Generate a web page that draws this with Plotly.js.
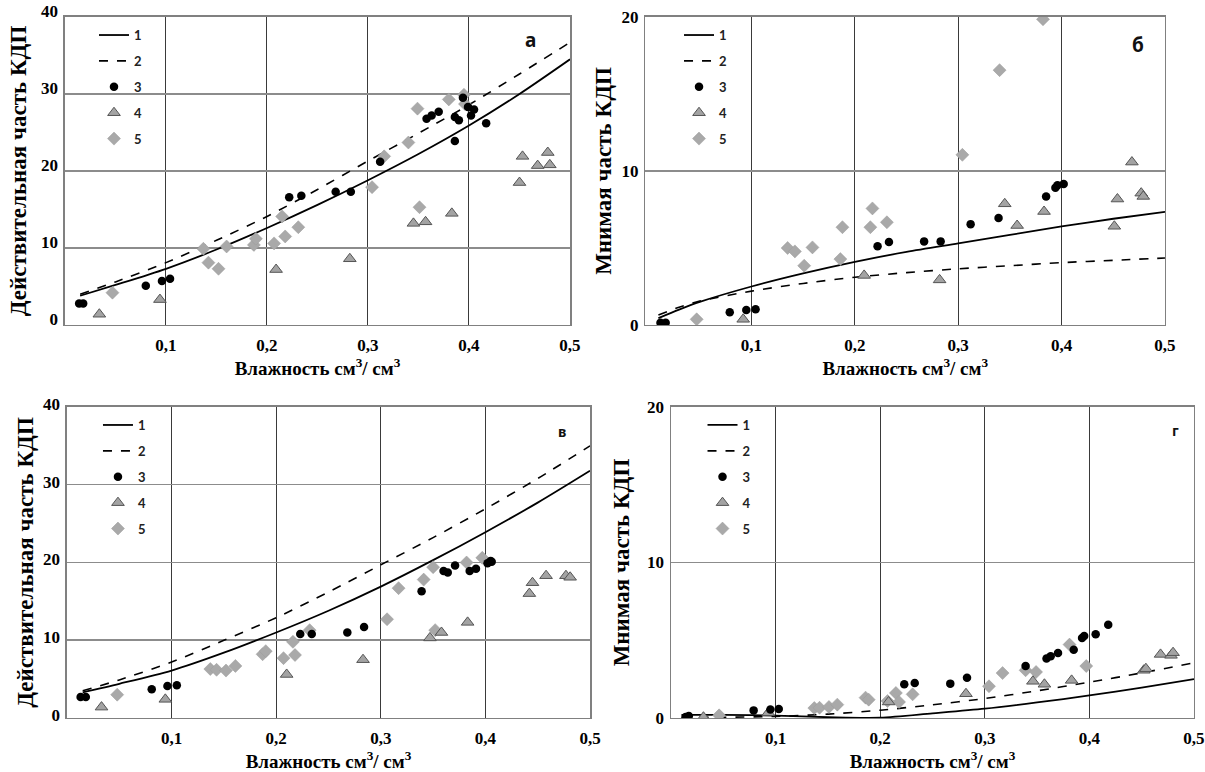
<!DOCTYPE html>
<html>
<head>
<meta charset="utf-8">
<script src="https://cdn.plot.ly/plotly-3.0.1.min.js"></script>
<style>html,body{margin:0;padding:0;background:#fff;}#chart{width:1205px;height:772px;}</style>
</head>
<body>
<div id="chart"></div>
<script>
// ---------- DATA ----------
var legendNames = ['1', '2', '3', '4', '5'];
var xTickVals = [0.1, 0.2, 0.3, 0.4, 0.5];
var xTickText = ['0,1', '0,2', '0,3', '0,4', '0,5'];
var yTicksReal = [0, 10, 20, 30, 40];
var yTicksImag = [0, 10, 20];
var xTitle = 'Влажность см<sup>3</sup>/ см<sup>3</sup>';
var yTitleReal = 'Действительная часть КДП';
var yTitleImag = 'Мнимая часть КДП';
var panelLabels = ['а', 'б', 'в', 'г'];

// model curves (x grid shared by curves of a panel)
var a_cx = [0.015, 0.05, 0.1, 0.15, 0.2, 0.25, 0.3, 0.35, 0.4, 0.45, 0.5];
var a_c1 = [3.8, 5.2, 7.3, 9.8, 12.6, 15.6, 18.8, 22.2, 25.9, 30.0, 34.5];
var a_c2 = [4.0, 5.6, 8.1, 11.0, 14.1, 17.6, 21.3, 24.9, 28.6, 32.6, 36.7];

var b_cx = [0.01, 0.03, 0.05, 0.1, 0.15, 0.2, 0.25, 0.3, 0.35, 0.4, 0.45, 0.5];
var b_c1 = [0.45, 1.0, 1.5, 2.5, 3.35, 4.1, 4.75, 5.3, 5.85, 6.4, 6.9, 7.35];
var b_c2 = [0.65, 1.15, 1.55, 2.2, 2.7, 3.1, 3.4, 3.65, 3.85, 4.05, 4.2, 4.35];

var v_cx = [0.015, 0.05, 0.1, 0.15, 0.2, 0.25, 0.3, 0.35, 0.4, 0.45, 0.5];
var v_c1 = [3.3, 4.4, 6.1, 8.4, 11.0, 13.8, 16.9, 20.3, 23.9, 27.7, 31.8];
var v_c2 = [3.5, 4.9, 7.2, 10.0, 12.9, 16.2, 19.7, 23.2, 26.9, 30.8, 35.0];

var g_cx = [0.01, 0.05, 0.1, 0.15, 0.2, 0.25, 0.3, 0.35, 0.4, 0.45, 0.5];
var g_c1 = [0.2, 0.2, 0.15, 0.05, 0.02, 0.3, 0.6, 1.0, 1.45, 1.95, 2.5];
var g_c2 = [0.05, 0.05, 0.1, 0.25, 0.5, 0.85, 1.25, 1.75, 2.3, 2.9, 3.55];

// measured points: series 3 (circles)
var a_x3 = [0.014, 0.018, 0.080, 0.096, 0.104, 0.222, 0.234, 0.268, 0.283, 0.312, 0.358, 0.363, 0.370, 0.386, 0.386, 0.390, 0.394, 0.399, 0.402, 0.405, 0.417];
var a_y3 = [2.8, 2.8, 5.1, 5.7, 6.0, 16.6, 16.8, 17.3, 17.3, 21.2, 26.8, 27.2, 27.7, 27.0, 23.9, 26.6, 29.5, 28.3, 27.2, 28.0, 26.2];
var b_x3 = [0.012, 0.017, 0.079, 0.095, 0.104, 0.222, 0.233, 0.267, 0.283, 0.312, 0.339, 0.385, 0.394, 0.396, 0.402];
var b_y3 = [0.15, 0.15, 0.83, 0.98, 1.02, 5.11, 5.39, 5.43, 5.43, 6.55, 6.94, 8.35, 8.91, 9.07, 9.16];
var v_x3 = [0.013, 0.018, 0.081, 0.096, 0.105, 0.223, 0.234, 0.268, 0.284, 0.339, 0.360, 0.364, 0.371, 0.385, 0.391, 0.402, 0.405, 0.406];
var v_y3 = [2.7, 2.7, 3.7, 4.1, 4.2, 10.8, 10.8, 11.0, 11.7, 16.3, 18.9, 18.7, 19.6, 18.9, 19.2, 19.9, 20.2, 20.1];
var g_x3 = [0.014, 0.017, 0.079, 0.095, 0.103, 0.223, 0.233, 0.267, 0.283, 0.339, 0.359, 0.363, 0.370, 0.385, 0.393, 0.395, 0.406, 0.418];
var g_y3 = [0.06, 0.13, 0.49, 0.54, 0.58, 2.17, 2.25, 2.21, 2.59, 3.34, 3.82, 3.97, 4.18, 4.39, 5.14, 5.27, 5.38, 6.0];

// series 4 (triangles)
var a_x4 = [0.034, 0.094, 0.209, 0.282, 0.345, 0.357, 0.383, 0.450, 0.453, 0.468, 0.478, 0.480];
var a_y4 = [1.4, 3.3, 7.2, 8.6, 13.2, 13.4, 14.5, 18.5, 21.9, 20.7, 22.4, 20.8];
var b_x4 = [0.092, 0.209, 0.282, 0.345, 0.357, 0.383, 0.451, 0.454, 0.468, 0.477, 0.479];
var b_y4 = [0.37, 3.22, 2.93, 7.87, 6.46, 7.37, 6.41, 8.18, 10.58, 8.56, 8.35];
var v_x4 = [0.033, 0.094, 0.210, 0.283, 0.347, 0.358, 0.383, 0.442, 0.445, 0.458, 0.477, 0.481];
var v_y4 = [1.4, 2.4, 5.6, 7.5, 10.3, 11.0, 12.3, 16.0, 17.4, 18.3, 18.3, 18.1];
var g_x4 = [0.031, 0.093, 0.208, 0.282, 0.346, 0.357, 0.383, 0.452, 0.454, 0.468, 0.478, 0.480];
var g_y4 = [0.05, 0.34, 1.03, 1.56, 2.36, 2.17, 2.42, 3.07, 3.17, 4.09, 4.03, 4.2];

// series 5 (diamonds)
var a_x5 = [0.047, 0.137, 0.142, 0.152, 0.160, 0.187, 0.189, 0.207, 0.215, 0.218, 0.231, 0.304, 0.316, 0.340, 0.349, 0.351, 0.380, 0.395, 0.396];
var a_y5 = [4.2, 9.9, 8.1, 7.3, 10.2, 10.4, 11.2, 10.6, 14.1, 11.5, 12.7, 17.9, 21.9, 23.7, 28.1, 15.3, 29.3, 29.9, 28.7];
var b_x5 = [0.047, 0.135, 0.142, 0.151, 0.159, 0.186, 0.188, 0.215, 0.217, 0.231, 0.304, 0.340, 0.382];
var b_y5 = [0.37, 5.0, 4.78, 3.85, 5.04, 4.28, 6.35, 6.35, 7.57, 6.67, 11.05, 16.55, 19.85];
var v_x5 = [0.048, 0.137, 0.143, 0.152, 0.161, 0.187, 0.190, 0.207, 0.216, 0.218, 0.232, 0.306, 0.317, 0.341, 0.350, 0.352, 0.382, 0.397];
var v_y5 = [3.0, 6.3, 6.2, 6.1, 6.7, 8.2, 8.6, 7.7, 9.8, 8.1, 11.3, 12.7, 16.7, 17.8, 19.4, 11.3, 20.0, 20.6];
var g_x5 = [0.046, 0.137, 0.142, 0.151, 0.159, 0.186, 0.189, 0.207, 0.215, 0.218, 0.231, 0.304, 0.317, 0.339, 0.349, 0.381, 0.397];
var g_y5 = [0.17, 0.64, 0.66, 0.71, 0.86, 1.31, 1.18, 1.09, 1.61, 1.03, 1.52, 2.04, 2.89, 3.07, 2.96, 4.72, 3.34];

// ---------- FIGURE ----------
var SERIF = 'Liberation Serif, Times New Roman, serif';
var SANS = 'Lato, Open Sans, sans-serif';

var panels = [
  {ax: '', leg: 'legend', cx: a_cx, c1: a_c1, c2: a_c2, x3: a_x3, y3: a_y3, x4: a_x4, y4: a_y4, x5: a_x5, y5: a_y5},
  {ax: '2', leg: 'legend2', cx: b_cx, c1: b_c1, c2: b_c2, x3: b_x3, y3: b_y3, x4: b_x4, y4: b_y4, x5: b_x5, y5: b_y5},
  {ax: '3', leg: 'legend3', cx: v_cx, c1: v_c1, c2: v_c2, x3: v_x3, y3: v_y3, x4: v_x4, y4: v_y4, x5: v_x5, y5: v_y5},
  {ax: '4', leg: 'legend4', cx: g_cx, c1: g_c1, c2: g_c2, x3: g_x3, y3: g_y3, x4: g_x4, y4: g_y4, x5: g_x5, y5: g_y5}
];

var traces = [];
panels.forEach(function (p, i) {
  var common = {xaxis: 'x' + p.ax, yaxis: 'y' + p.ax, legend: p.leg, hoverinfo: 'skip'};
  traces.push(Object.assign({x: p.cx, y: p.c1, mode: 'lines', name: legendNames[0], legendgroup: 'p' + i + 'a', legendrank: 1,
    line: {color: '#000', width: 1.8, shape: 'spline', smoothing: 0.8}}, common));
  traces.push(Object.assign({x: p.cx, y: p.c2, mode: 'lines', name: legendNames[1], legendgroup: 'p' + i + 'b', legendrank: 2,
    line: {color: '#000', width: 1.6, dash: 'dash', shape: 'spline', smoothing: 0.8}}, common));
  traces.push(Object.assign({x: p.x5, y: p.y5, mode: 'markers', name: legendNames[4], legendgroup: 'p' + i + 'e', legendrank: 5,
    marker: {symbol: 'diamond', size: 10, color: '#a9a9a9', line: {color: '#9a9a9a', width: 0.5}}}, common));
  traces.push(Object.assign({x: p.x4, y: p.y4, mode: 'markers', name: legendNames[3], legendgroup: 'p' + i + 'd', legendrank: 4,
    marker: {symbol: 'triangle-up', size: 11, color: '#a3a3a3', line: {color: '#555', width: 1}}}, common));
  traces.push(Object.assign({x: p.x3, y: p.y3, mode: 'markers', name: legendNames[2], legendgroup: 'p' + i + 'c', legendrank: 3,
    marker: {symbol: 'circle', size: 8.5, color: '#000'}}, common));
});

function xAxis(domain, range, anchor, standoff) {
  return {
    domain: domain, range: range, anchor: anchor,
    tickmode: 'array', tickvals: xTickVals, ticktext: xTickText,
    ticks: '', ticklabelstandoff: 4,
    tickfont: {family: SERIF, size: 17, weight: 'bold', color: '#000'},
    showgrid: true, gridcolor: '#3a3a3a', gridwidth: 1,
    zeroline: false, showline: true, mirror: true, linecolor: '#808080', linewidth: 1.5,
    fixedrange: true, automargin: false,
    title: {text: xTitle, standoff: standoff, font: {family: SERIF, size: 19, weight: 'bold', color: '#000'}}
  };
}
function yAxis(domain, range, anchor, ticks, title, shift, standoff) {
  return {
    domain: domain, range: range, anchor: anchor,
    tickmode: 'array', tickvals: ticks, ticktext: ticks.map(String),
    ticks: '', ticklabelstandoff: 2, ticklabelshift: shift,
    tickfont: {family: SERIF, size: 17, weight: 'bold', color: '#000'},
    showgrid: true, gridcolor: '#8c8c8c', gridwidth: 1.5,
    zeroline: false, showline: true, mirror: true, linecolor: '#808080', linewidth: 1.5,
    fixedrange: true, automargin: false,
    title: {text: title, standoff: standoff, font: {family: SERIF, size: 23, weight: 'bold', color: '#000'}}
  };
}
function legendBox(x, y) {
  return {x: x, y: y, xanchor: 'left', yanchor: 'top', bgcolor: 'rgba(0,0,0,0)', borderwidth: 0,
    tracegroupgap: 6, itemclick: false, itemdoubleclick: false,
    font: {family: SANS, size: 13, weight: 'bold', color: '#222'}};
}
function panelLabel(text, ax, x, y, size) {
  return {text: text, xref: 'x' + ax + ' domain', yref: 'y' + ax + ' domain', x: x, y: y,
    showarrow: false, xanchor: 'center', yanchor: 'middle',
    font: {family: 'Noto Sans, sans-serif', size: size, weight: 'bold', color: '#111'}};
}

var layout = {
  width: 1205, height: 772,
  margin: {l: 0, r: 0, t: 0, b: 0},
  paper_bgcolor: '#fff', plot_bgcolor: '#fff',
  showlegend: true,
  xaxis: xAxis([0.05394, 0.47303], [0, 0.5], 'y', 7),
  yaxis: yAxis([0.57902, 0.97798], [0, 40], 'x', yTicksReal, yTitleReal, -6, 8),
  xaxis2: xAxis([0.53568, 0.96680], [-0.0025, 0.5], 'y2', 7),
  yaxis2: yAxis([0.57902, 0.97798], [0, 20], 'x2', yTicksImag, yTitleImag, 0, 3),
  xaxis3: xAxis([0.05560, 0.48963], [0, 0.5], 'y3', 26),
  yaxis3: yAxis([0.06995, 0.47280], [0, 40], 'x3', yTicksReal, yTitleReal, -3, 3),
  xaxis4: xAxis([0.55685, 0.99087], [0, 0.5], 'y4', 26),
  yaxis4: yAxis([0.06995, 0.47280], [0, 20], 'x4', yTicksImag, yTitleImag, 0, 11),
  legend: legendBox(0.078, 0.974),
  legend2: legendBox(0.5635, 0.974),
  legend3: legendBox(0.0813, 0.4689),
  legend4: legendBox(0.583, 0.4689),
  annotations: [
    panelLabel(panelLabels[0], '', 0.921, 0.925, 19),
    panelLabel(panelLabels[1], '2', 0.948, 0.909, 19),
    panelLabel(panelLabels[2], '3', 0.946, 0.92, 14),
    panelLabel(panelLabels[3], '4', 0.964, 0.926, 14)
  ]
};

Plotly.newPlot('chart', traces, layout, {staticPlot: true, displayModeBar: false});
</script>
</body>
</html>
